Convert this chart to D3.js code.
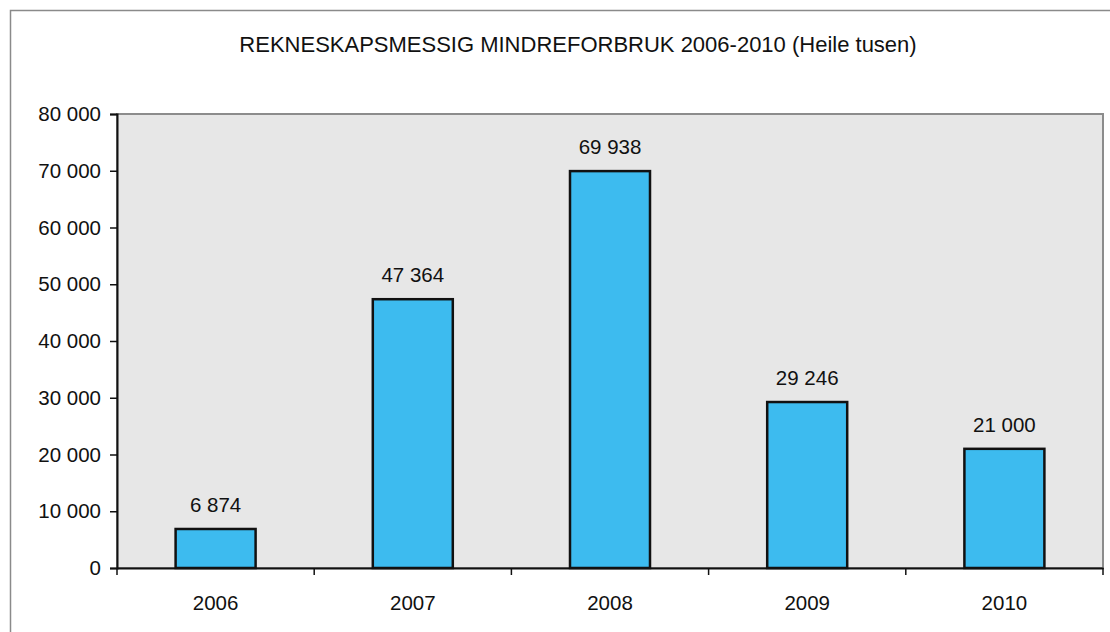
<!DOCTYPE html>
<html><head><meta charset="utf-8">
<script src="https://cdn.jsdelivr.net/npm/d3@7/dist/d3.min.js"></script>
<style>body{margin:0;background:#fff}svg{display:block;font-family:"Liberation Sans",Arial,sans-serif}</style>
</head><body><svg id="c" width="1110" height="632"></svg>
<script>
const title = "REKNESKAPSMESSIG MINDREFORBRUK 2006-2010 (Heile tusen)";
const categories = ["2006","2007","2008","2009","2010"];
const values = [6874, 47364, 69938, 29246, 21000];
const yTicks = [0,10000,20000,30000,40000,50000,60000,70000,80000];

const svg = d3.select("#c");
const fmt = v => d3.format(",")(v).replace(/,/g, " ");
const L = 117, R = 1103, T = 114, B = 568;
const FS = 20.5;

svg.append("rect").attr("x",10.5).attr("y",10.5).attr("width",1120).attr("height",660)
  .attr("fill","#fff").attr("stroke","#8a8a8a").attr("stroke-width",1.5);

svg.append("text").attr("x",578).attr("y",52).attr("text-anchor","middle")
  .attr("font-size",22).attr("fill","#111").text(title);

const xb = d3.scaleBand().domain(categories).range([L,R]);
const y = d3.scaleLinear().domain([0,80000]).range([B,T]);

svg.append("rect").attr("x",L).attr("y",T).attr("width",R-L).attr("height",B-T)
  .attr("fill","#e7e7e7").attr("stroke","#8c8c8c").attr("stroke-width",2);

const ya = svg.append("g").attr("transform",`translate(${L},0)`)
  .call(d3.axisLeft(y).tickValues(yTicks).tickFormat(fmt).tickSize(7).tickPadding(9));
ya.select(".domain").attr("stroke","#111").attr("stroke-width",2);
ya.selectAll(".tick line").attr("stroke","#111").attr("stroke-width",1.5);
ya.selectAll("text").attr("font-size",FS).attr("fill","#111").attr("font-family","Liberation Sans, Arial, sans-serif");

const xa = svg.append("g").attr("transform",`translate(0,${B})`)
  .call(d3.axisBottom(xb).tickSize(0).tickPadding(27));
xa.select(".domain").attr("stroke","#111").attr("stroke-width",2);
xa.selectAll("text").attr("font-size",FS).attr("fill","#111").attr("font-family","Liberation Sans, Arial, sans-serif");
const bounds = categories.map(c => xb(c)).concat([R]);
svg.append("g").selectAll("line").data(bounds).join("line")
  .attr("x1",d=>d).attr("x2",d=>d).attr("y1",B).attr("y2",B+7)
  .attr("stroke","#111").attr("stroke-width",1.5);

svg.append("g").selectAll("rect").data(values).join("rect")
  .attr("x",(d,i)=>xb(categories[i]) + xb.bandwidth()/2 - 40)
  .attr("width",80)
  .attr("y",d=>y(d)).attr("height",d=>B-y(d))
  .attr("fill","#3dbbef").attr("stroke","#111").attr("stroke-width",2.5);

svg.append("g").selectAll("text").data(values).join("text")
  .attr("x",(d,i)=>xb(categories[i]) + xb.bandwidth()/2)
  .attr("y",d=>y(d)-17).attr("text-anchor","middle")
  .attr("font-size",FS).attr("fill","#111").text(fmt);
</script></body></html>
